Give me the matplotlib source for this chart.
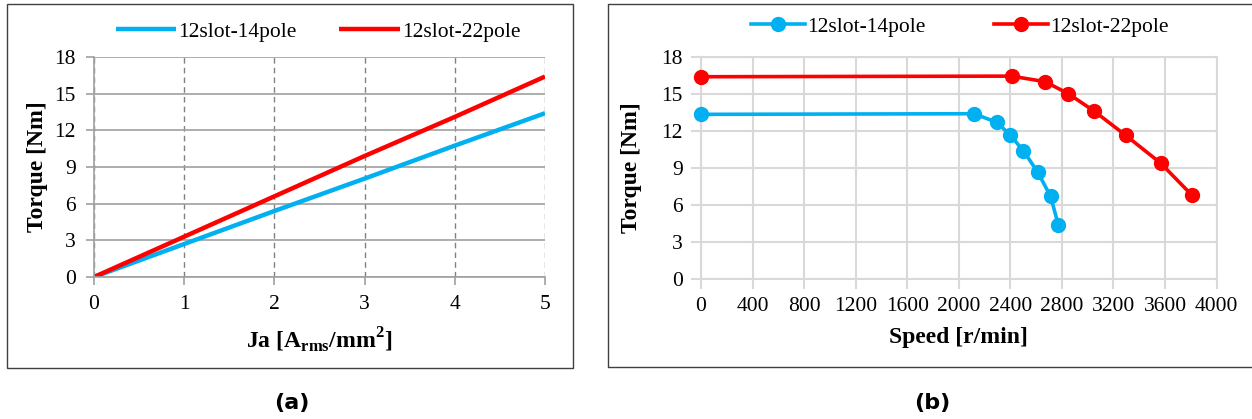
import matplotlib
matplotlib.use("Agg")
import matplotlib.pyplot as plt
from matplotlib.lines import Line2D
from matplotlib.patches import Rectangle

plt.rcParams['font.family'] = ['Liberation Serif', 'DejaVu Serif']
plt.rcParams['mathtext.fontset'] = 'custom'
plt.rcParams['mathtext.rm'] = 'Liberation Serif'
plt.rcParams['mathtext.bf'] = 'Liberation Serif:bold'

# ---------------- data ----------------
series_names = ["12slot-14pole", "12slot-22pole"]
colors = ["#00B0F0", "#FF0000"]

ja = [0, 1, 2, 3, 4, 5]
torque_ja_14 = [0, 2.7, 5.4, 8.05, 10.75, 13.4]
torque_ja_22 = [0, 3.3, 6.6, 9.9, 13.1, 16.4]

speed_14 = [0, 2120, 2295, 2397, 2501, 2612, 2713, 2772]
torque_sp_14 = [13.35, 13.4, 12.7, 11.7, 10.4, 8.68, 6.7, 4.4]
speed_22 = [0, 2410, 2669, 2850, 3052, 3295, 3566, 3809]
torque_sp_22 = [16.4, 16.45, 16.0, 15.03, 13.6, 11.65, 9.4, 6.8]

yticks = [0, 3, 6, 9, 12, 15, 18]
xticks_a = [0, 1, 2, 3, 4, 5]
xticks_b = [0, 400, 800, 1200, 1600, 2000, 2400, 2800, 3200, 3600, 4000]

W, H = 1252, 419
fig = plt.figure(figsize=(W / 100, H / 100), dpi=100)

def fx(px):
    return px / W

def fy(py):
    return 1 - py / H

# outer frames
fig.patches.append(Rectangle((fx(7), fy(368)), fx(573) - fx(7), fy(4) - fy(368),
                             transform=fig.transFigure, fill=False,
                             edgecolor="#404040", linewidth=1.0))
fig.lines.append(Line2D([fx(1252), fx(608), fx(608), fx(1252)],
                        [fy(4), fy(4), fy(367), fy(367)],
                        transform=fig.transFigure, color="#404040", linewidth=1.0))

TICK_FS = 15.5
LEG_FS = 15.5
LAB_FS = 17

# ---------------- panel (a) ----------------
axa = fig.add_axes([fx(94), fy(277), fx(545) - fx(94), fy(57) - fy(277)])
axa.plot(ja, torque_ja_14, color=colors[0], lw=3.2, label=series_names[0], solid_capstyle='butt')
axa.plot(ja, torque_ja_22, color=colors[1], lw=3.2, label=series_names[1], solid_capstyle='butt')
axa.set_xlim(0, 5)
axa.set_ylim(0, 18)
axa.set_xticks(xticks_a)
axa.set_yticks(yticks)
axa.yaxis.grid(True, color="#A0A0A0", lw=1.2, ls='-')
axa.xaxis.grid(True, color="#808080", lw=1.0, ls=(0, (4, 3)))
axa.set_axisbelow(True)
for s in ['top', 'right']:
    axa.spines[s].set_visible(False)
for s in ['left', 'bottom']:
    axa.spines[s].set_color("#A0A0A0")
    axa.spines[s].set_linewidth(1.2)
axa.tick_params(axis='both', direction='out', length=6, width=1.2, color="#A0A0A0",
                labelsize=TICK_FS, pad=7)
axa.set_xlabel(r'Ja [A$_{\mathbf{rms}}$/mm$^{\mathbf{2}}$]', fontsize=LAB_FS, fontweight='bold')
axa.xaxis.set_label_coords(0.499, (277 - 340) / 220)
axa.xaxis.label.set_va('center')
axa.set_ylabel('Torque [Nm]', fontsize=LAB_FS, fontweight='bold')
axa.yaxis.set_label_coords((38 - 94) / 451, 0.5)
axa.yaxis.label.set_va('center')
axa.legend(loc='center', bbox_to_anchor=(fx(318), fy(32)), bbox_transform=fig.transFigure,
           ncol=2, frameon=False, fontsize=LEG_FS, handlelength=2.8, columnspacing=2.0,
           handletextpad=0.1)

# ---------------- panel (b) ----------------
axb = fig.add_axes([fx(701), fy(279), fx(1216.5) - fx(701), fy(57) - fy(279)])
axb.plot(speed_14, torque_sp_14, color=colors[0], lw=2.6, marker='o', ms=10,
         label=series_names[0], clip_on=False, zorder=3)
axb.plot(speed_22, torque_sp_22, color=colors[1], lw=2.6, marker='o', ms=10,
         label=series_names[1], clip_on=False, zorder=3)
axb.set_xlim(0, 4000)
axb.set_ylim(0, 18)
axb.set_xticks(xticks_b)
axb.set_yticks(yticks)
axb.grid(True, color="#D9D9D9", lw=1.5)
axb.set_axisbelow(True)
for s in axb.spines.values():
    s.set_color("#D9D9D9")
    s.set_linewidth(1.5)
axb.tick_params(axis='both', direction='out', length=7, width=1.5, color="#D9D9D9",
                labelsize=TICK_FS, pad=6)
axb.set_xlabel('Speed [r/min]', fontsize=LAB_FS, fontweight='bold')
axb.xaxis.set_label_coords((958 - 701) / 515.5, (279 - 338) / 222)
axb.xaxis.label.set_va('center')
axb.set_ylabel('Torque [Nm]', fontsize=LAB_FS, fontweight='bold')
axb.yaxis.set_label_coords((632 - 701) / 515.5, 0.5)
axb.yaxis.label.set_va('center')
axb.legend(loc='center', bbox_to_anchor=(fx(960), fy(27)), bbox_transform=fig.transFigure,
           ncol=2, frameon=False, fontsize=LEG_FS, handlelength=2.5, columnspacing=3.2,
           handletextpad=0.1)

# panel captions
fig.text(fx(292), fy(403), '(a)', fontsize=16, fontweight='bold', family='DejaVu Sans',
         ha='center', va='center')
fig.text(fx(932), fy(403), '(b)', fontsize=16, fontweight='bold', family='DejaVu Sans',
         ha='center', va='center')

fig.savefig('out.png', dpi=100)
